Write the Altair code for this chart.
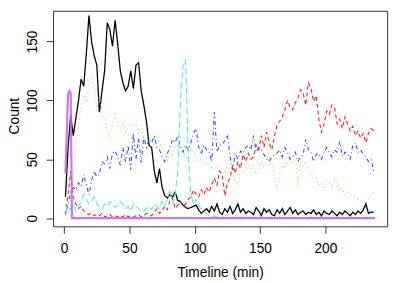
import altair as alt
import pandas as pd

# minutes sampled every 2 min (1, 3, ..., 237)
minutes = list(range(1, 238, 2))

black = [18, 60, 87, 70, 85, 100, 118, 112, 140, 172,
         150, 138, 130, 90, 108, 125, 166, 160, 146, 168,
         148, 125, 115, 108, 112, 125, 110, 130, 132, 108,
         96, 82, 62, 60, 40, 30, 42, 26, 19, 17,
         20, 18, 22, 15, 14, 11, 9, 8, 9, 10,
         11, 7, 4, 6, 8, 5, 10, 6, 12, 5,
         3, 8, 5, 10, 4, 7, 12, 5, 8, 4,
         6, 5, 3, 9, 6, 2, 8, 5, 7, 3,
         2, 7, 4, 8, 3, 6, 9, 4, 7, 3,
         5, 6, 3, 5, 4, 7, 3, 5, 2, 6,
         4, 3, 6, 4, 2, 5, 3, 6, 4, 2,
         5, 3, 6, 4, 7, 12, 4, 5, 5]

red = [3, 20, 40, 18, 12, 8, 10, 6, 4, 3,
       4, 2, 3, 2, 4, 1, 2, 3, 1, 2,
       1, 2, 1, 3, 1, 2, 1, 2, 3, 1,
       2, 4, 3, 2, 5, 8, 4, 6, 10, 7,
       15, 17, 8, 11, 14, 10, 12, 16, 18, 24,
       20, 18, 24, 20, 26, 22, 28, 34, 28, 40,
       37, 19, 30, 34, 45, 38, 48, 42, 54, 48,
       55, 50, 52, 62, 58, 70, 60, 73, 64, 58,
       70, 79, 82, 86, 92, 100, 94, 92, 98, 102,
       109, 106, 96, 115, 110, 99, 104, 84, 73, 80,
       91, 88, 96, 94, 80, 84, 76, 86, 80, 74,
       78, 70, 74, 68, 72, 64, 72, 76, 74]

green = [2, 4, 10, 35, 58, 80, 95, 105, 100, 115,
         122, 110, 92, 104, 88, 84, 75, 68, 80, 88,
         82, 75, 82, 73, 76, 80, 78, 82, 72, 79,
         70, 65, 66, 68, 70, 72, 65, 59, 55, 48,
         56, 52, 60, 58, 62, 56, 52, 48, 59, 56,
         52, 48, 50, 45, 46, 48, 42, 42, 44, 39,
         39, 40, 44, 35, 38, 31, 27, 45, 40, 42,
         45, 42, 45, 38, 40, 48, 44, 45, 46, 48,
         37, 24, 40, 45, 42, 48, 50, 46, 51, 28,
         45, 44, 48, 40, 37, 34, 34, 28, 30, 26,
         28, 30, 26, 34, 28, 23, 25, 20, 22, 19,
         19, 17, 16, 15, 14, 12, 16, 20, 22]

blue = [4, 12, 22, 26, 24, 30, 27, 37, 28, 20,
        32, 40, 35, 38, 48, 46, 52, 42, 55, 57,
        52, 45, 60, 48, 62, 41, 72, 50, 68, 47,
        69, 60, 67, 64, 70, 60, 58, 52, 48, 55,
        60, 67, 64, 70, 60, 56, 62, 58, 64, 72,
        76, 60, 54, 62, 58, 56, 48, 90, 56, 62,
        62, 66, 71, 52, 41, 55, 50, 57, 55, 60,
        62, 58, 70, 56, 60, 58, 54, 50, 48, 52,
        54, 55, 58, 52, 60, 56, 50, 52, 56, 48,
        52, 54, 67, 58, 56, 48, 54, 55, 50, 56,
        60, 56, 52, 58, 56, 65, 52, 56, 54, 50,
        62, 64, 56, 58, 54, 52, 48, 50, 40]

cyan = [12, 5, 8, 12, 6, 10, 14, 20, 16, 12,
        15, 18, 12, 10, 8, 12, 10, 14, 12, 9,
        11, 14, 12, 8, 10, 6, 12, 10, 8, 5,
        6, 8, 10, 7, 12, 10, 8, 14, 10, 16,
        24, 12, 20, 40, 100, 128, 135, 55, 20, 12,
        16, 10, 8, 6, 4, 2, 1, 2, 1, 0,
        1, 0, 1, 0, 0, 1, 0, 0, 1, 0,
        0, 1, 0, 0, 0, 1, 0, 0, 0, 0,
        0, 0, 1, 0, 0, 0, 0, 1, 0, 0,
        0, 0, 0, 0, 1, 0, 0, 0, 0, 0,
        0, 0, 0, 1, 0, 0, 0, 0, 0, 0,
        0, 0, 0, 0, 0, 0, 0, 0, 0]

purple_x = [1, 2, 3, 4, 5, 6, 238]
purple_y = [38, 72, 105, 108, 106, 0, 0]

x_ticks = [0, 50, 100, 150, 200]
y_ticks = [0, 50, 100, 150]

FONT = "Liberation Sans"
xscale = alt.Scale(domain=[-8.48, 247.3], nice=False, zero=False)
yscale = alt.Scale(domain=[-7, 176.1], nice=False, zero=False)

x_axis = alt.Axis(values=x_ticks, domain=False, grid=False, tickSize=7,
                  tickColor="#333333", labelFont=FONT, labelFontSize=14,
                  labelColor="black", labelBaseline="middle", labelPadding=16,
                  labelFlush=False, title="Timeline (min)", titleFont=FONT,
                  titleFontSize=14, titleFontWeight="normal", titleColor="black",
                  titleY=47, titleBaseline="middle")
y_axis = alt.Axis(values=y_ticks, domain=False, grid=False, tickSize=7,
                  tickColor="#333333", labelFont=FONT, labelFontSize=14,
                  labelColor="black", labelAngle=270, labelAlign="center",
                  labelBaseline="middle", labelPadding=14, labelFlush=False,
                  title="Count", titleFont=FONT, titleFontSize=14,
                  titleFontWeight="normal", titleColor="black", titleAngle=270,
                  titleX=-39, titleY=107, titleAlign="center",
                  titleBaseline="middle")


def layer(xs, ys, color, width, dash=None, opacity=1.0):
    df = pd.DataFrame({"x": xs, "y": ys})
    kw = dict(color=color, strokeWidth=width, opacity=opacity)
    if dash:
        kw["strokeDash"] = dash
    return alt.Chart(df).mark_line(**kw).encode(
        x=alt.X("x:Q", scale=xscale, axis=x_axis),
        y=alt.Y("y:Q", scale=yscale, axis=y_axis),
    )


chart = alt.layer(
    layer(minutes, black, "#000000", 1.3),
    layer(minutes, red, "#FF2020", 1.1, dash=[4, 3]),
    layer(minutes, green, "#90EE70", 1.1, dash=[1, 3]),
    layer(minutes, blue, "#3050FF", 1.1, dash=[1, 3, 4, 3]),
    layer(minutes, cyan, "#60ECD4", 1.1, dash=[7, 3]),
    layer(purple_x, purple_y, "#C060F0", 2.2, opacity=0.85),
).properties(
    width=341, height=220,
    autosize=alt.AutoSizeParams(type="none"),
    padding={"left": 46, "top": 0, "right": 8, "bottom": 55},
).configure_view(stroke="#333333", strokeWidth=1)

chart.save("out.html", embed_options={"renderer": "svg", "actions": False})
